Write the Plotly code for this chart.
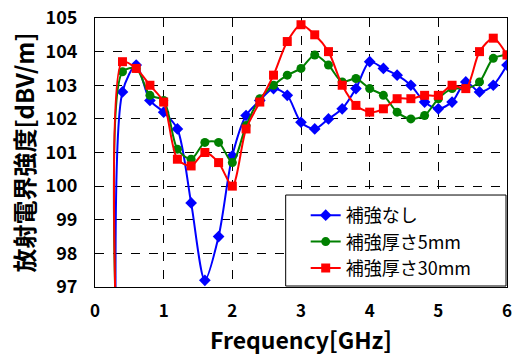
import plotly.graph_objects as go

freq = [0.3, 0.4, 0.6, 0.8, 1.0, 1.2, 1.4, 1.6, 1.8, 2.0, 2.2, 2.4, 2.6, 2.8, 3.0,
        3.2, 3.4, 3.6, 3.8, 4.0, 4.2, 4.4, 4.6, 4.8, 5.0, 5.2, 5.4, 5.6, 5.8, 6.0]
none_vals = [96.3, 102.8, 103.6, 102.55, 102.2, 101.7, 99.5, 97.2, 98.5, 100.9, 102.1, 102.55, 102.9, 102.7, 101.9,
             101.7, 102.0, 102.3, 102.9, 103.7, 103.5, 103.3, 103.0, 102.5, 102.3, 102.5, 103.1, 102.8, 103.0, 103.6]
t5_vals = [96.3, 103.4, 103.5, 102.7, 102.55, 101.1, 100.8, 101.3, 101.3, 100.7, 101.8, 102.6, 103.0, 103.3, 103.5,
           103.9, 103.6, 103.1, 103.2, 102.9, 102.7, 102.2, 102.0, 102.1, 102.6, 102.9, 102.9, 103.1, 103.8, 103.9]
t30_vals = [96.3, 103.7, 103.5, 103.0, 102.5, 100.8, 100.6, 101.0, 100.7, 100.0, 101.7, 102.5, 103.3, 104.3, 104.8,
            104.5, 104.0, 103.0, 102.4, 102.2, 102.3, 102.6, 102.6, 102.7, 102.7, 103.0, 102.9, 104.0, 104.4, 103.9]
names = ["補強なし", "補強厚さ5mm", "補強厚さ30mm"]
x_ticks = [0, 1, 2, 3, 4, 5, 6]
y_ticks = [97, 98, 99, 100, 101, 102, 103, 104, 105]

series = [
    (names[0], none_vals, "#0000FF", "diamond", 9),
    (names[1], t5_vals, "#008000", "circle", 9),
    (names[2], t30_vals, "#FF0000", "square", 9),
]

fig = go.Figure()
for name, vals, color, sym, size in series:
    fig.add_trace(go.Scatter(
        x=freq, y=vals, name=name, mode="lines+markers",
        line=dict(color=color, width=2, shape="spline", smoothing=0.8),
        marker=dict(symbol=sym, size=size, color=color),
        cliponaxis=True,
    ))

# legend box (white panel with black frame) behind the legend entries
fig.add_shape(type="rect", xref="paper", yref="paper",
              x0=0.4628, x1=0.9976, y0=0.0037, y1=0.3419,
              fillcolor="white", line=dict(color="black", width=1), layer="above")

font_family = "Noto Sans CJK JP"
fig.update_layout(
    width=515, height=358,
    margin=dict(l=95, r=3, t=15, b=71),
    paper_bgcolor="white", plot_bgcolor="white",
    font=dict(family=font_family, color="black"),
    legend=dict(
        x=0.458, y=0.0, xanchor="left", yanchor="bottom",
        bgcolor="rgba(0,0,0,0)", borderwidth=0,
        font=dict(size=18, family=font_family),
        itemwidth=30, tracegroupgap=0, indentation=22,
    ),
    showlegend=True,
)
fig.update_xaxes(
    range=[0, 6], tickvals=x_ticks, ticktext=[str(v) for v in x_ticks],
    showgrid=True, gridcolor="black", griddash="dash", gridwidth=1,
    showline=True, linecolor="black", linewidth=1, mirror=True,
    ticks="", zeroline=False, ticklabelstandoff=9, ticklabeloverflow="allow",
    tickfont=dict(size=17, family=font_family, weight="bold"),
    title=dict(text="Frequency[GHz]", font=dict(size=23, family=font_family, weight="bold"), standoff=7),
)
fig.update_yaxes(
    range=[97, 105], tickvals=y_ticks, ticktext=[str(v) for v in y_ticks],
    showgrid=True, gridcolor="black", griddash="dash", gridwidth=1,
    showline=True, linecolor="black", linewidth=1, mirror=True,
    ticks="", zeroline=False, ticklabelstandoff=13,
    tickfont=dict(size=18, family=font_family, weight="bold"),
    title=dict(text="放射電界強度[dBV/m]", font=dict(size=24, family=font_family, weight="bold"), standoff=4),
)

fig.write_html("out.html", config={"displayModeBar": False},
               post_script="document.body.style.margin='0';")
